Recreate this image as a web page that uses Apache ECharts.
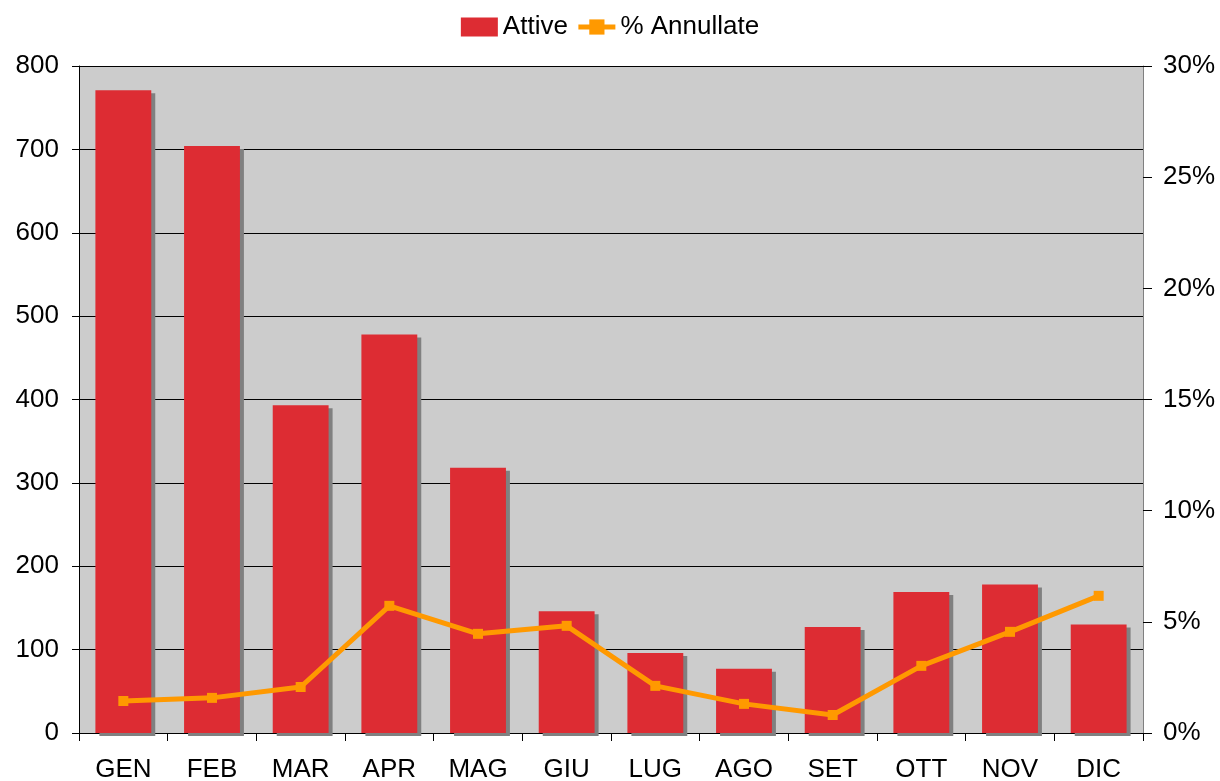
<!DOCTYPE html>
<html>
<head>
<meta charset="utf-8">
<script src="https://cdn.jsdelivr.net/npm/echarts@6/dist/echarts.min.js"></script>
<style>
html,body{margin:0;padding:0;background:#fff;}
#chart{width:1220px;height:781px;}
</style>
</head>
<body>
<div id="chart"></div>
<script>
const months = ['GEN','FEB','MAR','APR','MAG','GIU','LUG','AGO','SET','OTT','NOV','DIC'];
const attive = [771, 704, 393, 478, 318, 146, 96, 77, 127, 169, 178, 130];
const annullate = [1.44, 1.58, 2.07, 5.72, 4.46, 4.82, 2.12, 1.31, 0.81, 3.02, 4.55, 6.17];

const chart = echarts.init(document.getElementById('chart'), null, {renderer:'canvas'});
const font = 'Liberation Sans, Arial, sans-serif';
chart.setOption({
  animation: false,
  textStyle: {fontFamily: font},
  legend: {
    top: 9, left: 'center',
    itemWidth: 37, itemHeight: 19, itemGap: 8,
    textStyle: {fontSize: 26, color: '#000', fontFamily: font},
    data: [{name:'Attive', icon:'rect'}, {name:'% Annullate', lineStyle: {width: 5, color: '#FF9900'}}]
  },
  grid: {left: 79, right: 77, top: 66, bottom: 48, containLabel: false, outerBoundsMode: 'none',
         show: true, backgroundColor: '#CCCCCC', borderWidth: 0},
  xAxis: {
    type: 'category', data: months, boundaryGap: true,
    axisLine: {lineStyle: {color: '#000', width: 1}},
    axisTick: {show: true, length: 8, inside: false, alignWithLabel: false, lineStyle: {color: '#000'}},
    axisLabel: {fontSize: 26, color: '#000', margin: 24, fontFamily: font}
  },
  yAxis: [{
    type: 'value', min: 0, max: 800, interval: 100,
    axisLine: {show: true, lineStyle: {color: '#000'}},
    axisTick: {show: true, length: 7, lineStyle: {color: '#000'}},
    axisLabel: {fontSize: 26, color: '#000', margin: 20, fontFamily: font},
    splitLine: {show: true, lineStyle: {color: '#000', width: 1}}
  }, {
    type: 'value', min: 0, max: 30, interval: 5, position: 'right',
    axisLine: {show: true, lineStyle: {color: '#808080'}},
    axisTick: {show: true, length: 9, lineStyle: {color: '#000'}},
    axisLabel: {fontSize: 26, color: '#000', margin: 20, formatter: '{value}%', fontFamily: font},
    splitLine: {show: false}
  }],
  series: [{
    name: 'Attive', type: 'bar', data: attive, yAxisIndex: 0,
    barWidth: '63%',
    itemStyle: {color: '#DD2C33', shadowColor: '#808080', shadowOffsetX: 4, shadowOffsetY: 3, shadowBlur: 0}
  }, {
    name: '% Annullate', type: 'line', data: annullate, yAxisIndex: 1,
    symbol: 'rect', symbolSize: 10, showAllSymbol: true,
    lineStyle: {color: '#FF9900', width: 5},
    itemStyle: {color: '#FF9900'},
    z: 5
  }]
});
</script>
</body>
</html>
